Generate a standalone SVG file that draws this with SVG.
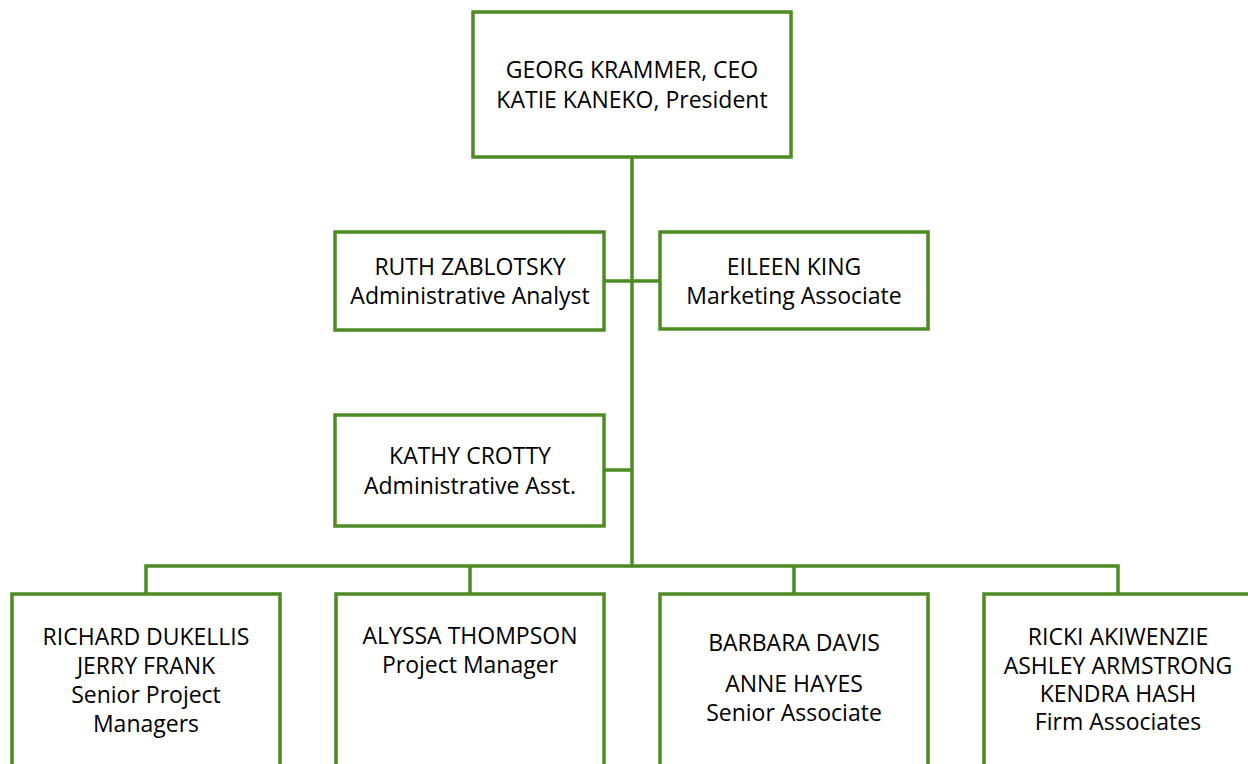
<svg xmlns="http://www.w3.org/2000/svg" width="1248" height="764" viewBox="0 0 1248 764">
<style>
.box{fill:#ffffff;stroke:#4e8b23;stroke-width:3.5}
.conn{fill:none;stroke:#4e8b23;stroke-width:3.5}
text{font-family:"Open Sans",Lato,"Liberation Sans",sans-serif;font-size:23px;fill:#000;text-anchor:middle}
</style>
<rect width="1248" height="764" fill="#ffffff"/>
<g id="connectors">
<path class="conn" d="M632 157V566"/>
<path class="conn" d="M604 281H660"/>
<path class="conn" d="M604 470H632"/>
<path class="conn" d="M146 594V566H1118V594"/>
<path class="conn" d="M470 566V594"/>
<path class="conn" d="M794 566V594"/>
</g>
<g id="ceo">
<rect class="box" x="473" y="12" width="318" height="145"/>
<text x="632" y="78">GEORG KRAMMER, CEO</text>
<text x="632" y="108">KATIE KANEKO, President</text>
</g>
<g id="ruth">
<rect class="box" x="335" y="232" width="269" height="98"/>
<text x="470" y="275">RUTH ZABLOTSKY</text>
<text x="470" y="304">Administrative Analyst</text>
</g>
<g id="eileen">
<rect class="box" x="660" y="232" width="268" height="97"/>
<text x="794" y="275">EILEEN KING</text>
<text x="794" y="304">Marketing Associate</text>
</g>
<g id="kathy">
<rect class="box" x="335" y="415" width="269" height="111"/>
<text x="470" y="464">KATHY CROTTY</text>
<text x="470" y="494">Administrative Asst.</text>
</g>
<g id="senior-pm">
<rect class="box" x="12" y="594" width="268" height="200"/>
<text x="146" y="645">RICHARD DUKELLIS</text>
<text x="146" y="674">JERRY FRANK</text>
<text x="146" y="703">Senior Project</text>
<text x="146" y="732">Managers</text>
</g>
<g id="pm">
<rect class="box" x="336" y="594" width="268" height="200"/>
<text x="470" y="644">ALYSSA THOMPSON</text>
<text x="470" y="673">Project Manager</text>
</g>
<g id="senior-assoc">
<rect class="box" x="660" y="594" width="268" height="200"/>
<text x="794" y="651">BARBARA DAVIS</text>
<text x="794" y="692">ANNE HAYES</text>
<text x="794" y="721">Senior Associate</text>
</g>
<g id="firm-assoc">
<rect class="box" x="984" y="594" width="268" height="200"/>
<text x="1118" y="645">RICKI AKIWENZIE</text>
<text x="1118" y="674">ASHLEY ARMSTRONG</text>
<text x="1118" y="702">KENDRA HASH</text>
<text x="1118" y="730">Firm Associates</text>
</g>
</svg>
